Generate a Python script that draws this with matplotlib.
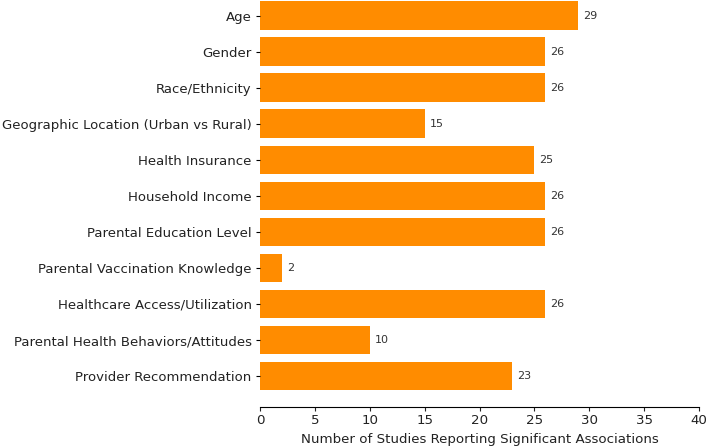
import matplotlib
matplotlib.use('Agg')
import matplotlib.pyplot as plt

# factors and number of studies reporting a significant association
factors = [
    "Age",
    "Gender",
    "Race/Ethnicity",
    "Geographic Location (Urban vs Rural)",
    "Health Insurance",
    "Household Income",
    "Parental Education Level",
    "Parental Vaccination Knowledge",
    "Healthcare Access/Utilization",
    "Parental Health Behaviors/Attitudes",
    "Provider Recommendation",
]
studies = [29, 26, 26, 15, 25, 26, 26, 2, 26, 10, 23]

fig = plt.figure(figsize=(7.09, 4.46), dpi=100)
ax = fig.add_axes([260 / 709, (446 - 407) / 446, 439 / 709, 407 / 446])

pos = list(range(len(factors)))
bars = ax.barh(pos, studies, height=0.8, color='#FF8C00')

for y, v in zip(pos, studies):
    ax.text(v + 0.45, y, str(v), va='center', ha='left', fontsize=8, color='#333333')

ax.set_yticks(pos)
ax.set_yticklabels(factors, fontsize=9.5, color='#222222')
ax.set_ylim(10.86, -0.44)
ax.set_xlim(0, 40)
ax.set_xticks(range(0, 41, 5))
ax.tick_params(axis='x', labelsize=9.6, colors='#222222', pad=2, length=3)
ax.tick_params(axis='y', length=3, pad=3)
ax.set_xlabel("Number of Studies Reporting Significant Associations", fontsize=9.6,
              color='#222222', labelpad=4)

for s in ['top', 'right', 'left']:
    ax.spines[s].set_visible(False)

fig.savefig('out.png', dpi=100)
